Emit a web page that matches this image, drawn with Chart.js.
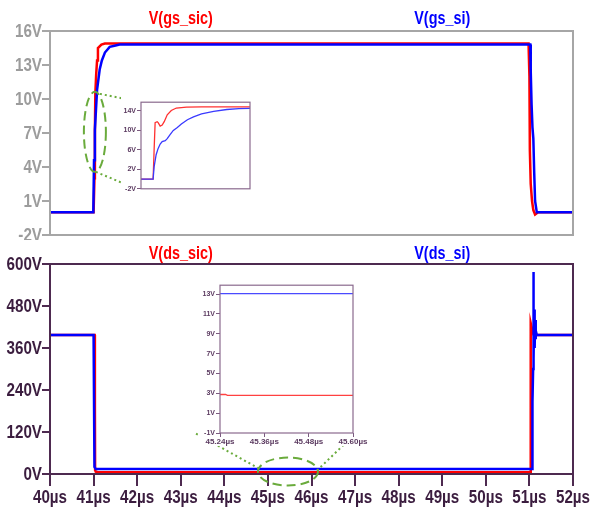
<!DOCTYPE html>
<html lang="en">
<head>
    <meta charset="UTF-8">
    <title>V(gs) / V(ds) - SiC vs Si</title>
    <style>
        body { margin: 0; background: #fff; }
        #wrap { position: relative; width: 596px; height: 510px; overflow: hidden; }
        #wrap canvas { position: absolute; }
    </style>
</head>
<body>
<div id="wrap">
    <canvas id="gsChart" width="596" height="240" style="left:0;top:0"></canvas>
    <canvas id="dsChart" width="596" height="270" style="left:0;top:240px"></canvas>
    <canvas id="gsZoom" width="132" height="97" style="left:121px;top:97px"></canvas>
    <canvas id="dsZoom" width="175" height="166" style="left:198px;top:280px"></canvas>
</div>

<script src="https://cdn.jsdelivr.net/npm/chart.js"></script>
<script>
    // ---- data (time in µs, voltage in V) ----
    const timeTicks = [40, 41, 42, 43, 44, 45, 46, 47, 48, 49, 50, 51, 52];
    const gsTicks = [-2, 1, 4, 7, 10, 13, 16];
    const dsTicks = [0, 120, 240, 360, 480, 600];

    const tGsSic = [40, 41.0, 41.02, 41.03, 41.04, 41.06, 41.08, 41.1, 41.18, 41.26, 42.5, 50.98, 51.0, 51.01, 51.03, 51.06, 51.09, 51.13, 51.2, 52];
    const vGsSic = [0, 0, 3, 7, 10.5, 12.2, 13.4, 14.5, 14.8, 14.9, 14.9, 14.9, 12, 5.5, 2.5, 1, 0.2, -0.2, 0, 0];

    const tGsSi = [40, 40.994, 41.01, 41.03, 41.08, 41.14, 41.19, 41.26, 41.37, 41.48, 41.6, 42.5, 51.0, 51.02, 51.03, 51.05, 51.07, 51.09, 51.11, 51.13, 51.17, 52];
    const vGsSi = [0, 0, 4.6, 7.3, 10.8, 12.6, 13.4, 14.1, 14.6, 14.7, 14.8, 14.8, 14.8, 14.8, 12.5, 9.5, 7.5, 6.5, 3.5, 1, 0, 0];

    const tDsSic = [40, 41.0, 41.025, 41.03, 41.035, 41.05, 41.1, 41.3, 51.0, 51.02, 51.025, 51.035, 51.05, 51.07, 51.1, 52];
    const vDsSic = [397, 397, 397, 190, 10, 7, 5, 5, 5, 5, 280, 431, 420, 405, 397, 397];

    const tDsSi = [40, 41.0, 41.02, 41.05, 51.06, 51.07, 51.085, 51.09, 51.1, 51.11, 51.12, 51.13, 51.14, 51.15, 51.17, 52];
    const vDsSi = [397, 397, 20, 14, 14, 206, 300, 577, 330, 470, 360, 440, 385, 410, 397, 397];

    // zoom of the gate turn-on (no time labels in the inset)
    const zGsTicks = [-2, 2, 6, 10, 14];
    const tZoomGsSi = [40.97, 41.03, 41.035, 41.045, 41.055, 41.065, 41.075, 41.09, 41.1, 41.115, 41.13, 41.15, 41.17, 41.2, 41.23, 41.27, 41.33, 41.395, 41.455, 41.51];
    const vZoomGsSi = [0, 0, 2.5, 5, 6.3, 7.2, 7.7, 7.9, 8.3, 9.2, 10, 10.6, 11.3, 12.2, 12.8, 13.4, 13.9, 14.3, 14.5, 14.55];
    const tZoomGsSic = [40.97, 41.03, 41.035, 41.04, 41.05, 41.055, 41.065, 41.075, 41.085, 41.1, 41.12, 41.145, 41.195, 41.27, 41.51];
    const vZoomGsSic = [0, 0, 6, 11.6, 11.8, 11.6, 10.9, 11.1, 11.8, 13.2, 14.1, 14.6, 14.8, 14.85, 14.85];

    // zoom of the on-state drain voltage
    const zDsTimeTicks = [45.24, 45.36, 45.48, 45.60];
    const zDsTicks = [-1, 1, 3, 5, 7, 9, 11, 13];
    const tZoomDsSic = [45.24, 45.255, 45.26, 45.60];
    const vZoomDsSic = [2.88, 2.88, 2.8, 2.8];
    const tZoomDsSi = [45.24, 45.60];
    const vZoomDsSi = [13.05, 13.05];

    // ---- styling ----
    const RED = '#ff0000';
    const BLUE = '#0000ff';
    const GREEN = '#6aab3c';
    const SANS = "'Liberation Sans', Arial, sans-serif";
    const SQUEEZE = 0.8;   // no narrow face installed, so Liberation Sans is squeezed by hand

    function pts(t, v) {
        return t.map((x, i) => ({ x: x, y: v[i] }));
    }

    function useTicks(values) {
        return function (scale) {
            scale.ticks = values.map(v => ({ value: v }));
        };
    }

    // white background, plot frame, narrow axis labels and trace names
    const frame = {
        id: 'frame',
        beforeDraw(chart) {
            const ctx = chart.ctx;
            ctx.save();
            ctx.fillStyle = '#fff';
            ctx.fillRect(0, 0, chart.width, chart.height);
            ctx.restore();
        },
        afterDraw(chart, args, opts) {
            const ctx = chart.ctx;
            const a = chart.chartArea;
            ctx.save();
            ctx.strokeStyle = opts.color;
            ctx.lineWidth = opts.width;
            ctx.strokeRect(a.left, a.top, a.right - a.left, a.bottom - a.top);
            ctx.restore();

            if (!opts.narrow) return;
            ctx.save();
            ctx.scale(SQUEEZE, 1);
            ctx.fillStyle = opts.tickColor;
            ctx.font = 'bold 19px ' + SANS;
            const ys = chart.scales.y;
            ctx.textAlign = 'right';
            ctx.textBaseline = 'middle';
            ys.ticks.forEach(t => {
                ctx.fillText(t.value + 'V', (a.left - 8) / SQUEEZE, ys.getPixelForValue(t.value) + 1);
            });
            ctx.textAlign = 'center';
            ctx.textBaseline = 'alphabetic';
            const xs = chart.scales.x;
            if (xs.options.display) {
                xs.ticks.forEach(t => {
                    ctx.fillText(t.value + 'µs', xs.getPixelForValue(t.value) / SQUEEZE, a.bottom + 29);
                });
            }
            ctx.font = 'bold 18px ' + SANS;
            chart.data.datasets.forEach(ds => {
                ctx.fillStyle = ds.borderColor;
                ctx.fillText(ds.label, (a.left + ds.nameAt * (a.right - a.left)) / SQUEEZE, opts.nameY);
            });
            ctx.restore();
        }
    };

    // green dashed ellipse on the main plot + dotted links to the inset box
    function zoomMarks(mark, inset, links) {
        return {
            id: 'zoomMarks',
            afterDraw(chart) {
                const ctx = chart.ctx;
                const cx = chart.scales.x.getPixelForValue(mark.x);
                const cy = chart.scales.y.getPixelForValue(mark.y);
                const za = inset.chartArea;
                const dx = inset.canvas.offsetLeft - chart.canvas.offsetLeft;
                const dy = inset.canvas.offsetTop - chart.canvas.offsetTop;
                ctx.save();
                ctx.strokeStyle = GREEN;
                ctx.lineWidth = 2;
                ctx.setLineDash([9, 5]);
                ctx.beginPath();
                ctx.ellipse(cx, cy, mark.rx, mark.ry, 0, 0, Math.PI * 2);
                ctx.stroke();
                ctx.setLineDash([2, 3]);
                links.forEach(l => {
                    const ex = dx + za[l.side] + l.off[0];
                    const ey = dy + za[l.edge] + l.off[1];
                    ctx.beginPath();
                    ctx.moveTo(cx + l.from[0], cy + l.from[1]);
                    ctx.lineTo(ex, ey);
                    ctx.stroke();
                });
                ctx.restore();
            }
        };
    }

    function axisStyle(color, width, tick) {
        return {
            display: true,
            drawOnChartArea: false,
            drawTicks: true,
            tickLength: tick,
            color: color,
            lineWidth: width
        };
    }

    const baseOptions = {
        responsive: false,
        animation: false,
        events: [],
        elements: { point: { radius: 0 }, line: { tension: 0 } }
    };

    // blue is drawn over red everywhere (order 0 = top)
    // ---- insets (created first so the main plots can point at them) ----
    const gsZoom = new Chart(document.getElementById('gsZoom'), {
        type: 'line',
        data: {
            datasets: [
                { label: 'V(gs_sic)', order: 1, data: pts(tZoomGsSic, vZoomGsSic), borderColor: '#ff3030', borderWidth: 1.3 },
                { label: 'V(gs_si)', order: 0, data: pts(tZoomGsSi, vZoomGsSi), borderColor: '#3a3aff', borderWidth: 1.3 }
            ]
        },
        options: Object.assign({}, baseOptions, {
            layout: { padding: { top: 5, right: 3, bottom: 5, left: 0 } },
            plugins: { legend: { display: false }, tooltip: { enabled: false }, frame: { color: '#8a6a8e', width: 1.2, narrow: false } },
            scales: {
                x: { type: 'linear', display: false, min: 40.97, max: 41.51 },
                y: {
                    min: -2, max: 15.8,
                    afterBuildTicks: useTicks(zGsTicks),
                    afterFit: s => { s.width = 20; },
                    border: { display: false },
                    grid: axisStyle('#7b5a7f', 1, 4),
                    ticks: { padding: 1, color: '#5b3a60', font: { family: SANS, size: 7, weight: 'bold' }, callback: v => v + 'V' }
                }
            }
        }),
        plugins: [frame]
    });

    const dsZoom = new Chart(document.getElementById('dsZoom'), {
        type: 'line',
        data: {
            datasets: [
                { label: 'V(ds_sic)', order: 1, data: pts(tZoomDsSic, vZoomDsSic), borderColor: '#ff4040', borderWidth: 1.3 },
                { label: 'V(ds_si)', order: 0, data: pts(tZoomDsSi, vZoomDsSi), borderColor: '#4a4aff', borderWidth: 1.3 }
            ]
        },
        options: Object.assign({}, baseOptions, {
            layout: { padding: { top: 4, right: 20, bottom: 0, left: 0 } },
            plugins: { legend: { display: false }, tooltip: { enabled: false }, frame: { color: '#8a6a8e', width: 1.2, narrow: false } },
            scales: {
                x: {
                    type: 'linear', min: 45.24, max: 45.60,
                    afterBuildTicks: useTicks(zDsTimeTicks),
                    afterFit: s => { s.height = 13; },
                    border: { display: false },
                    grid: axisStyle('#7b5a7f', 1, 4),
                    ticks: { padding: 0, maxRotation: 0, color: '#5b3a60', font: { family: SANS, size: 8, weight: 'bold' }, callback: v => v.toFixed(2) + 'µs' }
                },
                y: {
                    min: -1, max: 13.9,
                    afterBuildTicks: useTicks(zDsTicks),
                    afterFit: s => { s.width = 22; },
                    border: { display: false },
                    grid: axisStyle('#7b5a7f', 1, 4),
                    ticks: { padding: 1, color: '#5b3a60', font: { family: SANS, size: 7, weight: 'bold' }, callback: v => v + 'V' }
                }
            }
        }),
        plugins: [frame]
    });

    // ---- main plots ----
    new Chart(document.getElementById('gsChart'), {
        type: 'line',
        data: {
            datasets: [
                { label: 'V(gs_sic)', order: 1, nameAt: 0.25, data: pts(tGsSic, vGsSic), borderColor: RED, borderWidth: 2.5 },
                { label: 'V(gs_si)', order: 0, nameAt: 0.75, data: pts(tGsSi, vGsSi), borderColor: BLUE, borderWidth: 2.5 }
            ]
        },
        options: Object.assign({}, baseOptions, {
            layout: { padding: { top: 31, right: 23, bottom: 5, left: 0 } },
            plugins: {
                legend: { display: false }, tooltip: { enabled: false },
                frame: { color: '#a6a6a6', width: 2, narrow: true, tickColor: '#9c9c9c', nameY: 24 }
            },
            scales: {
                x: { type: 'linear', display: false, min: 40, max: 52 },
                y: {
                    min: -2, max: 16,
                    afterBuildTicks: useTicks(gsTicks),
                    afterFit: s => { s.width = 50; },
                    border: { display: false },
                    grid: axisStyle('#a6a6a6', 2, 8),
                    ticks: { display: false }
                }
            }
        }),
        plugins: [frame, zoomMarks({ x: 41.03, y: 7.1, rx: 11, ry: 40 }, gsZoom, [
            { from: [5, -38], side: 'left', edge: 'top', off: [0, 0] },
            { from: [1, 40], side: 'left', edge: 'bottom', off: [0, 2] }
        ])]
    });

    new Chart(document.getElementById('dsChart'), {
        type: 'line',
        data: {
            datasets: [
                { label: 'V(ds_sic)', order: 1, nameAt: 0.25, data: pts(tDsSic, vDsSic), borderColor: RED, borderWidth: 2.5 },
                { label: 'V(ds_si)', order: 0, nameAt: 0.75, data: pts(tDsSi, vDsSi), borderColor: BLUE, borderWidth: 2.5 }
            ]
        },
        options: Object.assign({}, baseOptions, {
            layout: { padding: { top: 24, right: 23, bottom: 0, left: 0 } },
            plugins: {
                legend: { display: false }, tooltip: { enabled: false },
                frame: { color: '#4e2a50', width: 2, narrow: true, tickColor: '#3b1d3f', nameY: 19 }
            },
            scales: {
                x: {
                    type: 'linear', min: 40, max: 52,
                    afterBuildTicks: useTicks(timeTicks),
                    afterFit: s => { s.height = 36; },
                    border: { display: false },
                    grid: axisStyle('#4e2a50', 2, 12),
                    ticks: { display: false }
                },
                y: {
                    min: 0, max: 600,
                    afterBuildTicks: useTicks(dsTicks),
                    afterFit: s => { s.width = 50; },
                    border: { display: false },
                    grid: axisStyle('#4e2a50', 2, 8),
                    ticks: { display: false }
                }
            }
        }),
        plugins: [frame, zoomMarks({ x: 45.46, y: 7, rx: 30, ry: 14 }, dsZoom, [
            { from: [-29, -3], side: 'left', edge: 'bottom', off: [-25, 0] },
            { from: [29, -1], side: 'right', edge: 'bottom', off: [3, 0] }
        ])]
    });
</script>
</body>
</html>
